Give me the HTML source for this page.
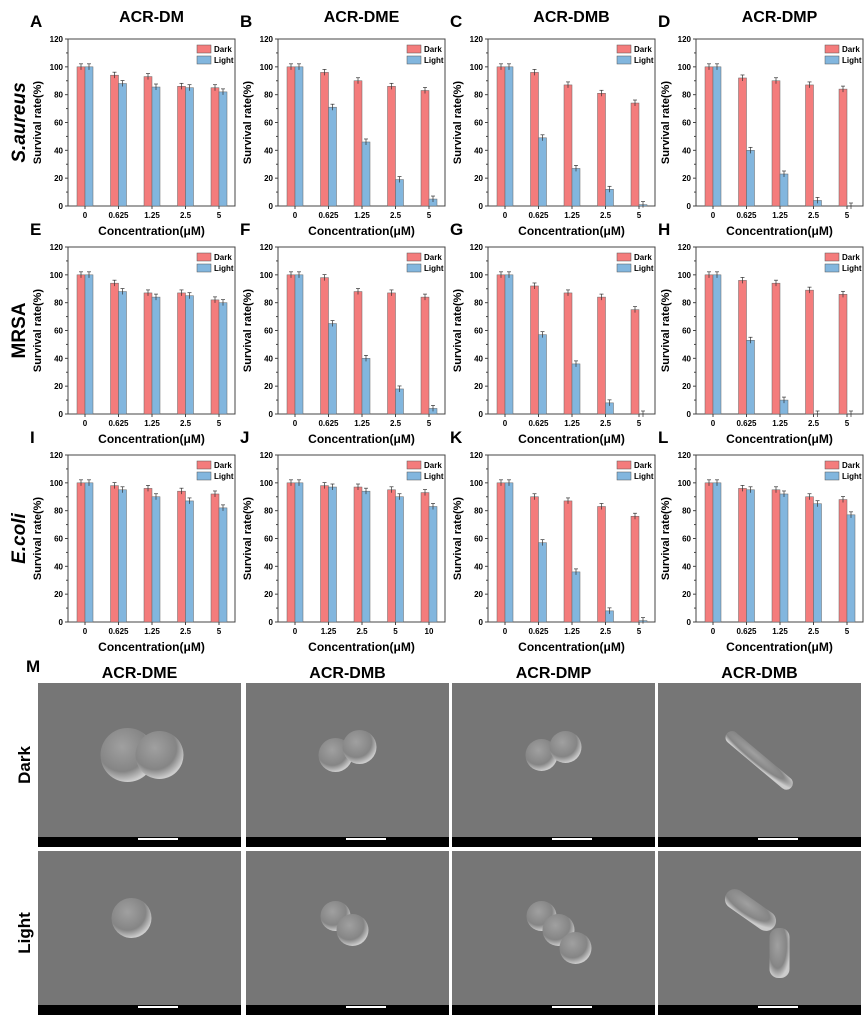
<!DOCTYPE html>
<html><head><meta charset="utf-8"><style>
body{margin:0;background:#fff;width:864px;height:1016px;overflow:hidden;font-family:"Liberation Sans",Arial,sans-serif}
svg text{font-family:"Liberation Sans",Arial,sans-serif;font-weight:bold}
</style></head><body>
<svg id="s" width="864" height="1016" xmlns="http://www.w3.org/2000/svg">
<defs>
<radialGradient id="cell" cx="40%" cy="35%" r="65%"><stop offset="0" stop-color="#a0a0a0"/><stop offset="0.7" stop-color="#858585"/><stop offset="1" stop-color="#cccccc"/></radialGradient>
</defs>
</svg>
<script>
const s=document.getElementById('s');let h='';
const L=[68,278,488,696],T=[39,247,455],W=167,H=167;
const D=[
[[100,94,93,86,85],[100,88,85.5,85,82]],
[[100,96,90,86,83],[100,71,46,19,5]],
[[100,96,87,81,74],[100,49,27,12,1]],
[[100,92,90,87,84],[100,40,23,4,0]],
[[100,94,87,87,82],[100,88,84,85,80]],
[[100,98,88,87,84],[100,65,40,18,4]],
[[100,92,87,84,75],[100,57,36,8,0]],
[[100,96,94,89,86],[100,53,10,0,0]],
[[100,98,96,94,92],[100,95,90,87,82]],
[[100,98,97,95,93],[100,97,94,90,83]],
[[100,90,87,83,76],[100,57,36,8,1]],
[[100,96,95,90,88],[100,95,92,85,77]]];
const letters='ABCDEFGHIJKL',titles=['ACR-DM','ACR-DME','ACR-DMB','ACR-DMP'];
for(let r=0;r<3;r++)for(let c=0;c<4;c++){
 const i=r*4+c,x0=L[c],y0=T[r],yb=y0+H,sc=H/120;
 const labs=i==9?['0','1.25','2.5','5','10']:['0','0.625','1.25','2.5','5'];
 h+=`<text x="${x0-38}" y="${y0-12}" font-size="17">${letters[i]}</text>`;
 if(r==0)h+=`<text x="${x0+W/2}" y="${y0-17}" font-size="16" text-anchor="middle">${titles[c]}</text>`;
 h+=`<rect x="${x0}" y="${y0}" width="${W}" height="${H}" fill="none" stroke="#444" stroke-width="1"/>`;
 for(let v=0;v<=120;v+=20){const y=yb-v*sc;h+=`<line x1="${x0}" x2="${x0-3}" y1="${y}" y2="${y}" stroke="#444"/><text x="${x0-5}" y="${y+3}" font-size="8" text-anchor="end">${v}</text>`;
 if(v<120)h+=`<line x1="${x0}" x2="${x0-2}" y1="${y-10*sc}" y2="${y-10*sc}" stroke="#444"/>`;}
 h+=`<text transform="translate(${x0-27},${y0+H/2}) rotate(-90)" font-size="11" text-anchor="middle">Survival rate(%)</text>`;
 for(let g=0;g<5;g++){const cx=x0+17+g*33.5;
  [[D[i][0][g],'#f47c7c',-8],[D[i][1][g],'#82b6de',0]].forEach(([v,col,dx])=>{const y=yb-v*sc;
   h+=`<rect x="${cx+dx}" y="${y}" width="8" height="${v*sc}" fill="${col}" stroke="#666" stroke-width="0.5"/>`;
   h+=`<line x1="${cx+dx+4}" x2="${cx+dx+4}" y1="${y-3}" y2="${y+3}" stroke="#333" stroke-width="0.7"/><line x1="${cx+dx+2}" x2="${cx+dx+6}" y1="${y-3}" y2="${y-3}" stroke="#333" stroke-width="0.7"/>`;});
  h+=`<line x1="${cx}" x2="${cx}" y1="${yb}" y2="${yb+3}" stroke="#444"/><text x="${cx}" y="${yb+12}" font-size="8" text-anchor="middle">${labs[g]}</text>`;}
 h+=`<rect x="${x0+W-38}" y="${y0+6}" width="14" height="8" fill="#f47c7c" stroke="#555" stroke-width="0.5"/><text x="${x0+W-21}" y="${y0+13}" font-size="8">Dark</text>`;
 h+=`<rect x="${x0+W-38}" y="${y0+17}" width="14" height="8" fill="#82b6de" stroke="#555" stroke-width="0.5"/><text x="${x0+W-21}" y="${y0+24}" font-size="8">Light</text>`;
 h+=`<text x="${x0+W/2}" y="${yb+29}" font-size="12" text-anchor="middle">Concentration(μM)</text>`;
}
[['S.aureus',1],['MRSA',0],['E.coli',1]].forEach(([t,it],r)=>{h+=`<text transform="translate(25,${T[r]+H/2}) rotate(-90)" font-size="19" text-anchor="middle" ${it?'font-style="italic"':''}>${t}</text>`;});
h+=`<text x="26" y="672" font-size="17">M</text>`;
const SX=[38,246,452,658],SW=203,SY=[683,851],SH=164;
['ACR-DME','ACR-DMB','ACR-DMP','ACR-DMB'].forEach((t,c)=>h+=`<text x="${SX[c]+SW/2}" y="678" font-size="16" text-anchor="middle">${t}</text>`);
h+=`<text transform="translate(30,765) rotate(-90)" font-size="17" text-anchor="middle">Dark</text><text transform="translate(30,933) rotate(-90)" font-size="17" text-anchor="middle">Light</text>`;
for(let r=0;r<2;r++)for(let c=0;c<4;c++){const x=SX[c],y=SY[r];
 h+=`<rect x="${x}" y="${y}" width="${SW}" height="${SH}" fill="#767676"/><rect x="${x}" y="${y+SH-10}" width="${SW}" height="10" fill="#000"/><rect x="${x+100}" y="${y+SH-9}" width="40" height="2" fill="#fff"/>`;
 const cx=x+SW/2,cy=y+(SH-10)/2;
 if(c==3){ if(r==0)h+=`<rect x="${cx-42}" y="${cy-6}" width="84" height="13" rx="6.5" fill="url(#cell)" transform="rotate(40 ${cx} ${cy})"/>`;
  else h+=`<rect x="${cx-38}" y="${cy-28}" width="58" height="20" rx="10" fill="url(#cell)" transform="rotate(35 ${cx-9} ${cy-18})"/><rect x="${cx+10}" y="${cy}" width="20" height="50" rx="9" fill="url(#cell)"/>`;}
 else{const rad=[[24,20,20],[17,16,18],[16,16,18]][c][r];
  if(r==0)h+=`<circle cx="${cx-12}" cy="${cy-5}" r="${rad+(c==0?3:0)}" fill="url(#cell)"/><circle cx="${cx+12+(c==0?8:0)}" cy="${cy-5-(c>0?8:0)}" r="${rad}" fill="url(#cell)"/>`;
  else if(c==0)h+=`<circle cx="${cx-8}" cy="${cy-10}" r="20" fill="url(#cell)"/>`;
  else h+=`<circle cx="${cx-12}" cy="${cy-12}" r="15" fill="url(#cell)"/><circle cx="${cx+5}" cy="${cy+2}" r="16" fill="url(#cell)"/>${c==2?`<circle cx="${cx+22}" cy="${cy+20}" r="16" fill="url(#cell)"/>`:''}`;}
}
s.innerHTML+=h;
</script>
</body></html>
